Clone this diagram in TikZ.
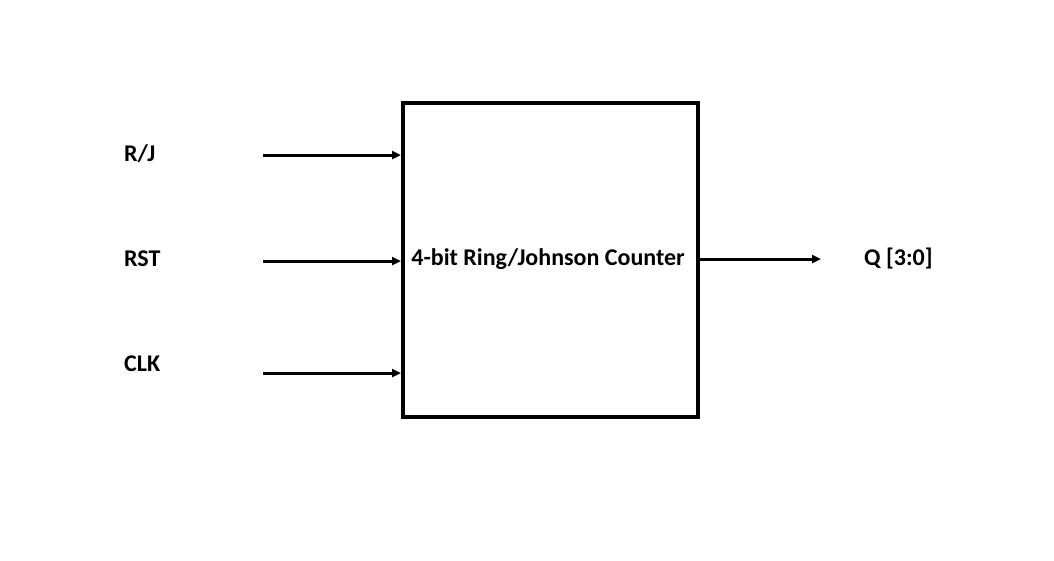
\documentclass[tikz,border=0pt]{standalone}
\usepackage{fontspec}
\setmainfont{Carlito}
\usetikzlibrary{arrows.meta}
\begin{document}
\begin{tikzpicture}[x=1pt,y=-1pt,
  lbl/.style={font=\bfseries\fontsize{24}{28}\selectfont, inner sep=0pt},
  conn/.style={line width=3pt, -{Triangle[length=9pt,width=8pt]}}]
\useasboundingbox (0,0) rectangle (1054,560);
\node[draw, line width=3.5pt, minimum width=295pt, minimum height=314pt, inner sep=0pt, anchor=north west] (box) at (401,101) {};
\node[lbl] (title) at (548,259) {4-bit Ring/Johnson Counter};
\node[lbl, anchor=west] (rjl) at (124,154) {R/J};
\node[lbl, anchor=west] (rstl) at (124,259) {RST};
\node[lbl, anchor=west] (clkl) at (124,364) {CLK};
\node[lbl, anchor=west] (ql) at (864,259) {Q [3:0]};
\coordinate (rj) at (263,155);
\coordinate (rst) at (263,261);
\coordinate (clk) at (263,373);
\coordinate (qo) at (821,259);
\draw[conn] (rj) -- (rj -| box.west);
\draw[conn] (rst) -- (rst -| box.west);
\draw[conn] (clk) -- (clk -| box.west);
\draw[conn] (qo -| box.east) -- (qo);
\end{tikzpicture}
\end{document}
